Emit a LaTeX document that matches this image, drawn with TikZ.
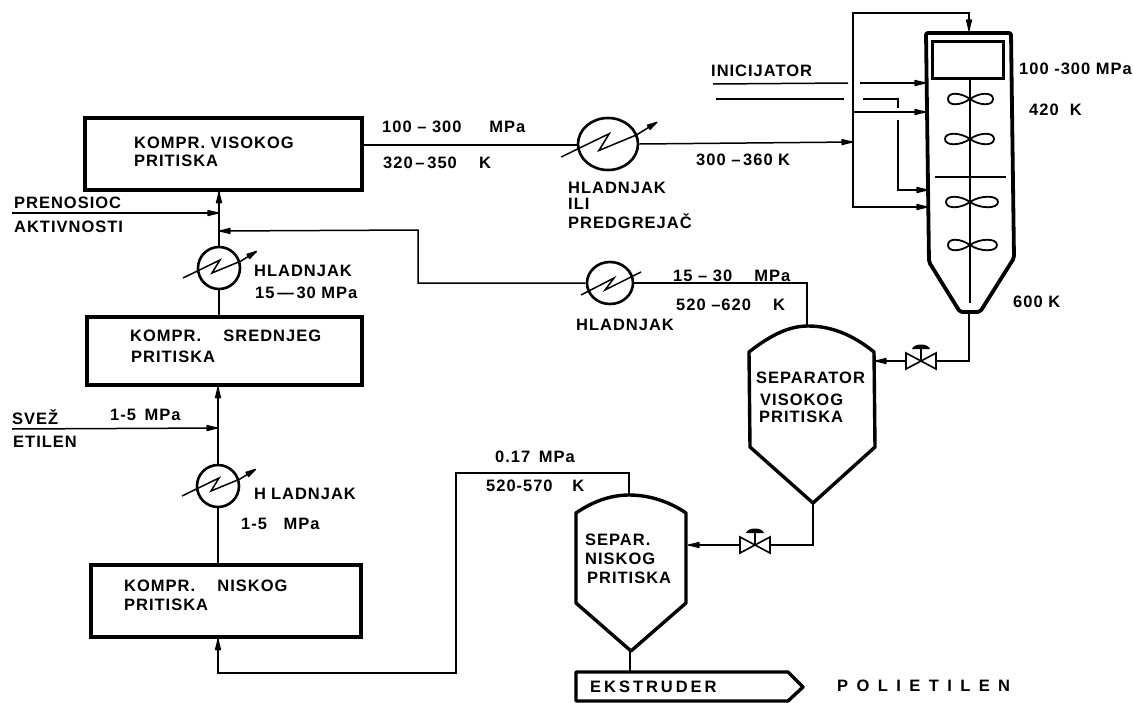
\documentclass[tikz,border=0pt]{standalone}
\usepackage{fontspec}
\setmainfont{Liberation Sans}
\newfontfamily\lblfont[LetterSpace=6]{Liberation Sans Bold}
\newfontfamily\prodfont[LetterSpace=51]{Liberation Sans Bold}
\newfontfamily\wideprodfont[LetterSpace=18]{Liberation Sans Bold}
\usepackage{tikz}
\usetikzlibrary{arrows.meta,shapes.geometric}
\tikzset{
  pipe/.style={line width=1.5pt},
  feed/.style={pipe,-{Latex[round,length=16pt,width=7pt]}},
  vessel/.style={line width=3.4pt,line join=round},
  compbox/.style={draw,line width=3.4pt,inner sep=0pt},
  coolerbox/.style={draw,ellipse,line width=2.6pt,inner sep=0pt},
  valvebox/.style={inner sep=0pt,minimum width=30pt,minimum height=16pt},
  lbl/.style={font=\lblfont\fontsize{16.5}{16.5}\selectfont,anchor=west,inner sep=0pt}
}
\begin{document}
\begin{tikzpicture}[x=1pt,y=-1pt]
    \useasboundingbox (0,0) rectangle (1133,702);
    % compressors
    \node[compbox,minimum width=277pt,minimum height=72pt] (boxA) at (223.5,154) {};
    \node[compbox,minimum width=275pt,minimum height=68pt] (boxB) at (224.5,351) {};
    \node[compbox,minimum width=270pt,minimum height=72pt] (boxC) at (226,601) {};
    % coolers
    \node[coolerbox,minimum width=42pt,minimum height=42pt] (cA) at (219,268) {};
    \node[coolerbox,minimum width=42pt,minimum height=42pt] (cB) at (218,486) {};
    \node[coolerbox,minimum width=60pt,minimum height=52pt] (cC) at (608,144) {};
    \node[coolerbox,minimum width=46pt,minimum height=42pt] (cD) at (610,283) {};
    \foreach \n/\s in {cA/1,cB/1,cC/1.3} {
      \begin{scope}[shift={(\n)},scale=\s]
        \draw[line width=1.5pt,-{Latex[round,length=15pt,width=7pt]}] (-36,10) -- (1,-8) -- (-7,5) -- (22,-7) -- (38,-17);
      \end{scope}
    }
    \begin{scope}[shift={(cD)}]
      \draw[line width=1.5pt] (-29,12) -- (4,-5) -- (-5,7) -- (31,-11);
    \end{scope}
    % reactor
    \draw[vessel,line width=3.8pt,rounded corners=2pt] (926,33) -- (1011,33) -- (1014,258) -- (980,312) -- (960,312) -- (929,262) -- cycle;
    \node[draw,line width=3.4pt,inner sep=0pt,minimum width=71pt,minimum height=37pt] (rtop) at (968,60) {};
    \coordinate (rshaft) at (970,303);
    \draw[line width=1.5pt] (rtop.south -| rshaft) -- (rshaft);
    \draw[line width=2.4pt] (935,177) -- (1006,177);
    \foreach \yy/\wl/\wr in {99/948/993,139/945/994,202/946/998,245/948/997} {
      \draw[line width=1.8pt] (970,\yy) .. controls (960,\yy-7) and (\wl,\yy-7) .. (\wl,\yy) .. controls (\wl,\yy+7) and (960,\yy+7) .. (970,\yy)
        .. controls (980,\yy-7) and (\wr,\yy-7) .. (\wr,\yy) .. controls (\wr,\yy+7) and (980,\yy+7) .. (970,\yy);
    }
    % separators
    \draw[vessel] (749,352) .. controls (772,334) and (790,326) .. (808,326) .. controls (830,326) and (852,334) .. (874,352) -- (875,447) -- (813,503) -- (750,447) -- cycle;
    \draw[vessel] (576,513) .. controls (592,502) and (610,495) .. (629,495) .. controls (650,495) and (670,502) .. (686,513) -- (686,603) -- (631,651) -- (576,603) -- cycle;
    \draw[vessel] (576,672) -- (788,672) -- (803,687) -- (788,701) -- (576,701) -- cycle;
    % valves
    \node[valvebox] (vA) at (921,361) {};
    \node[valvebox] (vB) at (755,545) {};
    \foreach \n in {vA,vB} {
      \begin{scope}[shift={(\n)}]
        \draw[line width=1.6pt] (-15,-8) -- (15,8) -- (15,-8) -- (-15,8) -- cycle;
        \draw[line width=1.5pt] (0,0) -- (0,-12);
        \fill (-9,-12) .. controls (-7,-18) and (7,-18) .. (9,-12) -- cycle;
      \end{scope}
    }
    % joints and free ends
    \coordinate (jA) at (219,213);
    \coordinate (jB) at (219,231);
    \coordinate (jC) at (218,428);
    \coordinate (sA) at (12,213);
    \coordinate (sB) at (12,429);
    \coordinate (bend) at (418,230);
    \coordinate (hpT) at (807,326);
    \coordinate (hpR) at (875,361);
    \coordinate (hpB) at (813,503);
    \coordinate (lpT) at (629,495);
    \coordinate (lpR) at (688,545);
    \coordinate (lpB) at (630,651);
    \coordinate (extr) at (630,672);
    \coordinate (rOut) at (969,312);
    \coordinate (rIn) at (969,31);
    \coordinate (man) at (853,142);
    \coordinate (ini) at (713,84);
    \coordinate (iniE) at (848,83);
    \coordinate (iniF) at (860,83);
    \coordinate (iniR) at (926,83);
    \coordinate (inj) at (716,99);
    \coordinate (injE) at (844,99);
    \coordinate (injF) at (863,99);
    \coordinate (injG) at (898,99);
    \coordinate (injH) at (898,108);
    \coordinate (injI) at (898,120);
    \coordinate (injR) at (928,190);
    \coordinate (rA) at (926,112);
    \coordinate (rB) at (928,207);
    % main line
    \draw[feed] (cA.north) -- (cA.north |- boxA.south);
    \draw[pipe] (boxB.north -| cA) -- (cA.south);
    \draw[feed] (cB.north) -- (cB.north |- boxB.south);
    \draw[pipe] (boxC.north -| cB) -- (cB.south);
    \draw[feed] (sA) -- (jA);
    \draw[feed] (sB) -- (jC);
    \draw[feed] (cD.west) -- (cD.west -| bend) -- (bend) -- (jB);
    \draw[pipe] (hpT) |- (cD.east);
    \draw[feed] (lpT) -- (629,473) -- (456,473) -- (456,673) -- (cB |- 0,673) -- (cB |- boxC.south);
    % reactor feeds
    \draw[pipe] (boxA.east |- 0,145) -- (cC.west |- 0,145);
    \draw[feed] (cC.east) -- (man);
    \draw[feed] (man) -- (853,13) -- (969,13) -- (rIn);
    \draw[feed] (853,112) -- (rA);
    \draw[feed] (man) -- (853,207) -- (rB);
    \draw[pipe] (ini) -- (iniE);
    \draw[feed] (iniF) -- (iniR);
    \draw[pipe] (inj) -- (injE);
    \draw[pipe] (injF) -- (injG) -- (injH);
    \draw[feed] (injI) |- (injR);
    % separator lines
    \draw[feed] (vA.west) -- (hpR);
    \draw[pipe] (rOut) |- (vA.east);
    \draw[feed] (vB.west) -- (lpR);
    \draw[pipe] (hpB) |- (vB.east);
    \draw[pipe] (lpB) -- (extr);
    % texts
    \node[lbl] (tA1) at (134,143) {KOMPR. VISOKOG};
    \node[lbl] (tA2) at (134,161) {PRITISKA};
    \node[lbl] (tB1) at (130,336) {KOMPR.\ \ \ \ SREDNJEG};
    \node[lbl] (tB2) at (131,357) {PRITISKA};
    \node[lbl] (tC1) at (124,586) {KOMPR.\ \ \ \ NISKOG};
    \node[lbl] (tC2) at (124,605) {PRITISKA};
    \node[lbl] (tP1) at (14,203) {PRENOSIOC};
    \node[lbl] (tP2) at (14,227) {AKTIVNOSTI};
    \node[lbl] (tH1) at (254,271) {HLADNJAK};
    \node[lbl] (tH2) at (255,293) {15\,—\,30 MPa};
    \node[lbl] (tS1) at (12,417) {SVEŽ};
    \node[lbl] (tS2) at (13,442) {ETILEN};
    \node[lbl] (tS3) at (110,415) {1-5\kern3pt\ MPa};
    \node[lbl] (tH3) at (254,494) {H\kern5pt LADNJAK};
    \node[lbl] (tH4) at (241,524) {1-5\ \ \ MPa};
    \node[lbl] (tF1) at (382,127) {100 – 300\ \ \ \ \ MPa};
    \node[lbl] (tF2) at (383,163) {320\,–\,350\ \ \ \ K};
    \node[lbl] (tG1) at (568,188) {HLADNJAK};
    \node[lbl] (tG2) at (568,204) {ILI};
    \node[lbl] (tG3) at (568,221) {PREDGREJAČ};
    \node[lbl] (tF3) at (696,160) {300 –\,360\,\,K};
    \node[lbl] (tI) at (711,71) {INICIJATOR};
    \node[lbl] (tR1) at (1019,69) {100 -300 MPa};
    \node[lbl] (tR2) at (1029,110) {420\ \ K};
    \node[lbl] (tR3) at (1013,302) {600 K};
    \node[lbl] (tD1) at (673,276) {15 – 30\ \ \ \ MPa};
    \node[lbl] (tD2) at (676,305) {520 –620\ \ \ \ K};
    \node[lbl] (tD3) at (576,325) {HLADNJAK};
    \node[lbl] (tV1) at (756,378) {SEPARATOR};
    \node[lbl] (tV2) at (760,400) {VISOKOG};
    \node[lbl] (tV3) at (759,417) {PRITISKA};
    \node[lbl] (tL1) at (495,457) {0.17\kern3pt\ MPa};
    \node[lbl] (tL2) at (486,486) {520-570\ \ \ \kern3pt K};
    \node[lbl] (tN1) at (585,540) {SEPAR.};
    \node[lbl] (tN2) at (585,559) {NISKOG};
    \node[lbl] (tN3) at (587,578) {PRITISKA};
    \node[lbl,font=\wideprodfont\fontsize{16.5}{16.5}\selectfont] (tE) at (590,687) {EKSTRUDER};
    \node[lbl,font=\prodfont\fontsize{16.5}{16.5}\selectfont] (tO) at (837,686) {POLIETILEN};
  \end{tikzpicture}
\end{document}
